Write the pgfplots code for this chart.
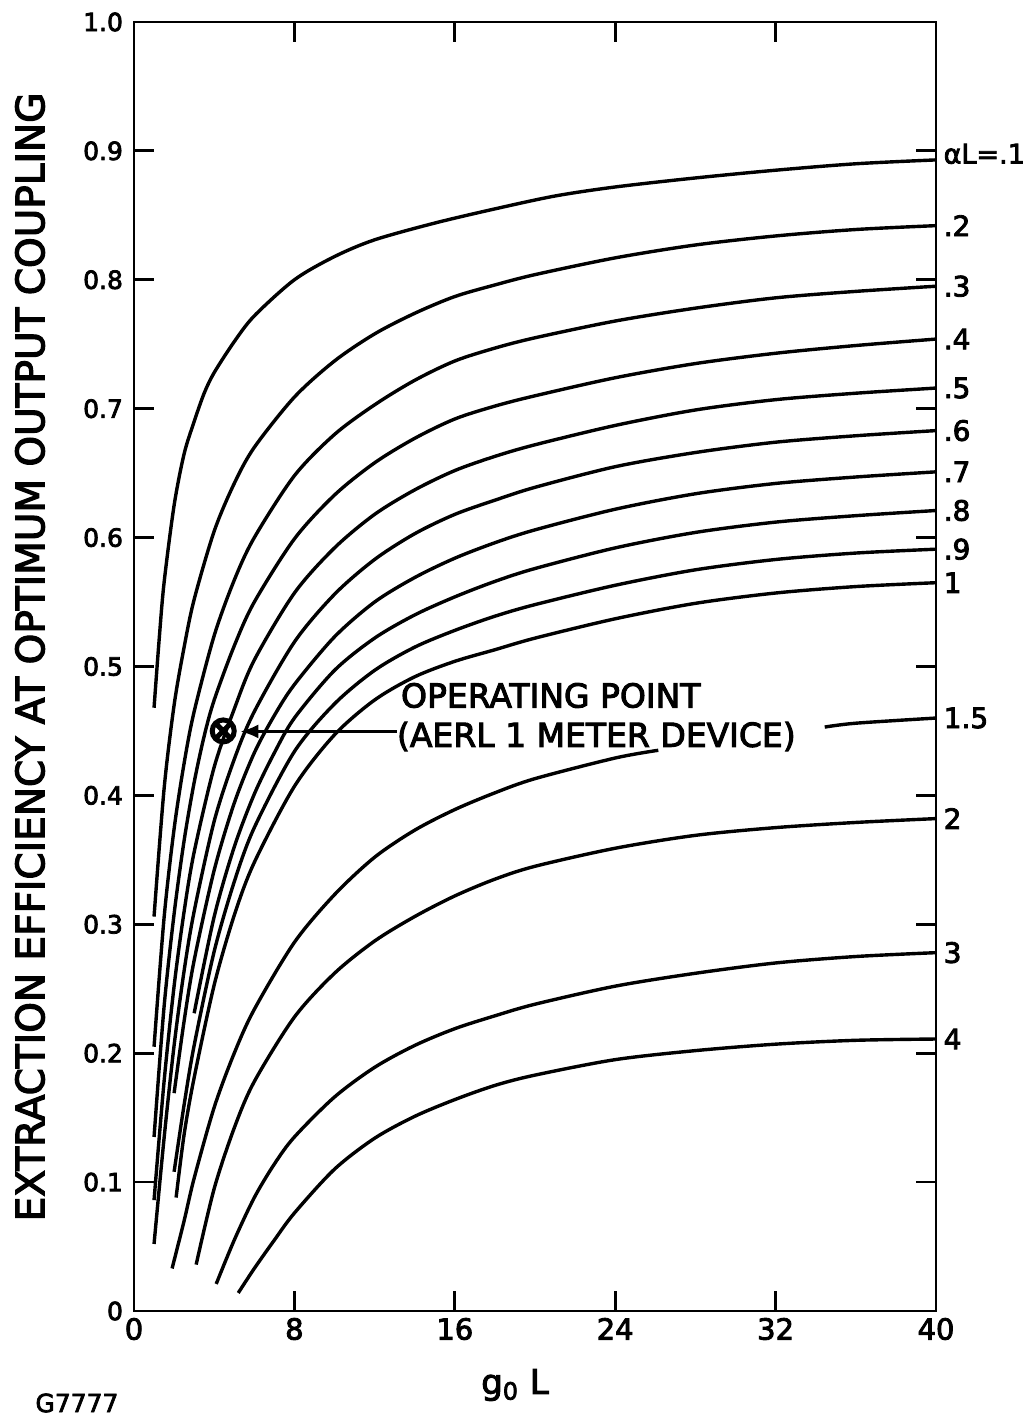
\documentclass[border=0pt]{standalone}
\usepackage{fontspec}
\setmainfont{DejaVu Sans}[FakeBold=3]
\usepackage{pgfplots}
\pgfplotsset{compat=1.18}
\usetikzlibrary{arrows.meta,plotmarks}

\pgfplotsset{
  curve/.style={black, line width=1.7pt, smooth, mark=none},
}
\tikzset{
  endlabel/.style={pos=1, anchor=west, inner sep=3pt, font=\fontsize{14}{16}\selectfont},
}

\begin{document}
\begin{tikzpicture}
\useasboundingbox (-67pt,-52.5pt) rectangle (448.5pt,655.5pt);
\begin{axis}[
  at={(0pt,0pt)}, anchor=south west,
  scale only axis, width=401pt, height=644.5pt,
  xmin=0, xmax=40, ymin=0, ymax=1,
  xtick={0,8,16,24,32,40},
  xticklabels={0,8,16,24,32,40},
  ytick={0,0.1,0.2,0.3,0.4,0.5,0.6,0.7,0.8,0.9,1},
  yticklabels={0,0.1,0.2,0.3,0.4,0.5,0.6,0.7,0.8,0.9,1.0},
  tick align=inside, xtick pos=both, ytick pos=both,
  xticklabel pos=lower, yticklabel pos=left,
  major tick length=10pt,
  axis line style={line width=1.4pt, black},
  tick style={line width=1.4pt, black},
  x tick label style={font=\fontsize{14.5}{17}\selectfont},
  y tick label style={font=\fontsize{12.5}{15}\selectfont, xshift=-2pt},
  /pgf/number format/assume math mode=true,
  clip=false,
]
% alpha L = 0.1
\addplot[curve] coordinates {(1,0.468) (1.25,0.52) (1.5,0.565) (2,0.625) (2.5,0.665) (3,0.69) (3.5,0.712) (4,0.728) (5,0.752) (6,0.772) (8,0.80) (10,0.818) (12,0.831) (15,0.844) (18,0.855) (21,0.865) (24,0.872) (28,0.879) (32,0.885) (36,0.89) (40,0.893)}
  node[endlabel, yshift=3pt, font=\fontsize{13.5}{16}\selectfont] {αL=.1};
% alpha L = 0.2
\addplot[curve] coordinates {(1,0.306) (1.5,0.405) (2,0.47) (2.5,0.515) (3,0.552) (4,0.605) (5,0.642) (6,0.670) (8,0.709) (10,0.737) (12,0.758) (14,0.774) (16,0.787) (18,0.796) (20,0.804) (24,0.817) (28,0.827) (32,0.834) (36,0.839) (40,0.842)}
  node[endlabel] {.2};
% alpha L = 0.3
\addplot[curve] coordinates {(1,0.205) (1.5,0.305) (2,0.374) (2.5,0.425) (3,0.465) (4,0.524) (5,0.567) (6,0.60) (8,0.648) (10,0.68) (12,0.703) (14,0.722) (16,0.737) (18,0.747) (20,0.755) (24,0.768) (28,0.778) (32,0.786) (36,0.791) (40,0.795)}
  node[endlabel] {.3};
% alpha L = 0.4
\addplot[curve] coordinates {(1,0.135) (1.5,0.236) (2,0.308) (2.5,0.365) (3,0.41) (3.5,0.446) (4,0.474) (5,0.516) (6,0.55) (8,0.599) (10,0.633) (12,0.658) (14,0.677) (16,0.692) (18,0.702) (20,0.710) (24,0.724) (28,0.735) (32,0.743) (36,0.749) (40,0.754)}
  node[endlabel] {.4};
% alpha L = 0.5
\addplot[curve] coordinates {(1,0.086) (1.5,0.178) (2,0.252) (2.5,0.31) (3,0.356) (4,0.422) (5,0.467) (6,0.505) (8,0.557) (10,0.592) (12,0.618) (14,0.637) (16,0.652) (18,0.663) (20,0.672) (24,0.687) (28,0.699) (32,0.707) (36,0.712) (40,0.716)}
  node[endlabel] {.5};
% alpha L = 0.6
\addplot[curve] coordinates {(1,0.052) (1.5,0.134) (2,0.206) (2.5,0.264) (3,0.31) (4,0.38) (5,0.428) (6,0.465) (8,0.519) (10,0.556) (12,0.583) (14,0.603) (16,0.618) (18,0.629) (20,0.639) (24,0.655) (28,0.666) (32,0.674) (36,0.679) (40,0.683)}
  node[endlabel] {.6};
% alpha L = 0.7
\addplot[curve] coordinates {(2,0.169) (2.5,0.225) (3,0.272) (4,0.342) (5,0.394) (6,0.433) (7,0.462) (8,0.486) (10,0.523) (12,0.55) (14,0.569) (16,0.584) (18,0.596) (20,0.606) (24,0.622) (28,0.634) (32,0.642) (36,0.647) (40,0.651)}
  node[endlabel] {.7};
% alpha L = 0.8
\addplot[curve] coordinates {(3,0.231) (4,0.306) (5,0.36) (6,0.401) (7,0.433) (8,0.46) (10,0.497) (12,0.522) (14,0.54) (16,0.554) (18,0.566) (20,0.576) (24,0.592) (28,0.604) (32,0.612) (36,0.617) (40,0.621)}
  node[endlabel] {.8};
% alpha L = 0.9
\addplot[curve] coordinates {(2,0.108) (2.5,0.16) (3,0.206) (4,0.279) (5,0.333) (6,0.375) (8,0.434) (10,0.471) (12,0.497) (14,0.515) (16,0.528) (18,0.539) (20,0.548) (24,0.563) (28,0.575) (32,0.583) (36,0.588) (40,0.591)}
  node[endlabel] {.9};
% alpha L = 1
\addplot[curve] coordinates {(2.1,0.088) (2.5,0.137) (3,0.181) (4,0.253) (5,0.307) (6,0.348) (8,0.407) (10,0.447) (12,0.474) (14,0.492) (16,0.504) (18,0.513) (20,0.522) (24,0.537) (28,0.549) (32,0.557) (36,0.562) (40,0.565)}
  node[endlabel] {1};
% alpha L = 1.5 (broken where the annotation sits)
\addplot[curve] coordinates {(1.9,0.033) (2.5,0.07) (3,0.103) (4,0.158) (5,0.2) (6,0.234) (8,0.286) (10,0.323) (12,0.352) (14,0.373) (16,0.389) (18,0.402) (20,0.413) (24,0.429) (26.15,0.435)};
\addplot[curve] coordinates {(34.45,0.453) (36,0.456) (40,0.460)}
  node[endlabel] {1.5};
% alpha L = 2
\addplot[curve] coordinates {(3.1,0.036) (4,0.095) (5,0.142) (6,0.178) (8,0.228) (10,0.262) (12,0.287) (14,0.306) (16,0.322) (18,0.335) (20,0.345) (24,0.359) (28,0.369) (32,0.375) (36,0.379) (40,0.382)}
  node[endlabel] {2};
% alpha L = 3
\addplot[curve] coordinates {(4.1,0.021) (5,0.055) (6,0.088) (7,0.114) (8,0.135) (10,0.166) (12,0.189) (14,0.206) (16,0.219) (18,0.229) (20,0.238) (24,0.252) (28,0.262) (32,0.27) (36,0.275) (40,0.278)}
  node[endlabel] {3};
% alpha L = 4
\addplot[curve] coordinates {(5.2,0.014) (6,0.033) (7,0.055) (8,0.076) (10,0.11) (12,0.134) (14,0.151) (16,0.164) (18,0.175) (20,0.183) (24,0.195) (28,0.202) (32,0.207) (36,0.21) (40,0.211)}
  node[endlabel] {4};
% operating point
\addplot[only marks, mark=otimes, mark size=5.5pt, line width=2.5pt, black] coordinates {(4.45,0.45)};
\draw[line width=1.4pt, -{Latex[length=9pt,width=7pt]}] (axis cs:13.1,0.4496) -- (axis cs:5.3,0.4496);
\node[anchor=west, inner sep=0pt, font=\fontsize{16.5}{19}\selectfont] at (axis cs:13.3,0.4775) {OPERATING POINT};
\node[anchor=west, inner sep=0pt, font=\fontsize{16.5}{19}\selectfont] at (axis cs:13.1,0.4457) {(AERL 1 METER DEVICE)};
\end{axis}
\node[rotate=90, font=\fontsize{19.5}{22}\selectfont] at (-52pt,327pt) {EXTRACTION EFFICIENCY AT OPTIMUM OUTPUT COUPLING};
\node[font=\fontsize{17}{20}\selectfont] at (190.5pt,-37pt) {g\textsubscript{0} L};
\node[font=\fontsize{12.5}{14}\selectfont] at (-28.5pt,-46pt) {G7777};
\end{tikzpicture}
\end{document}
